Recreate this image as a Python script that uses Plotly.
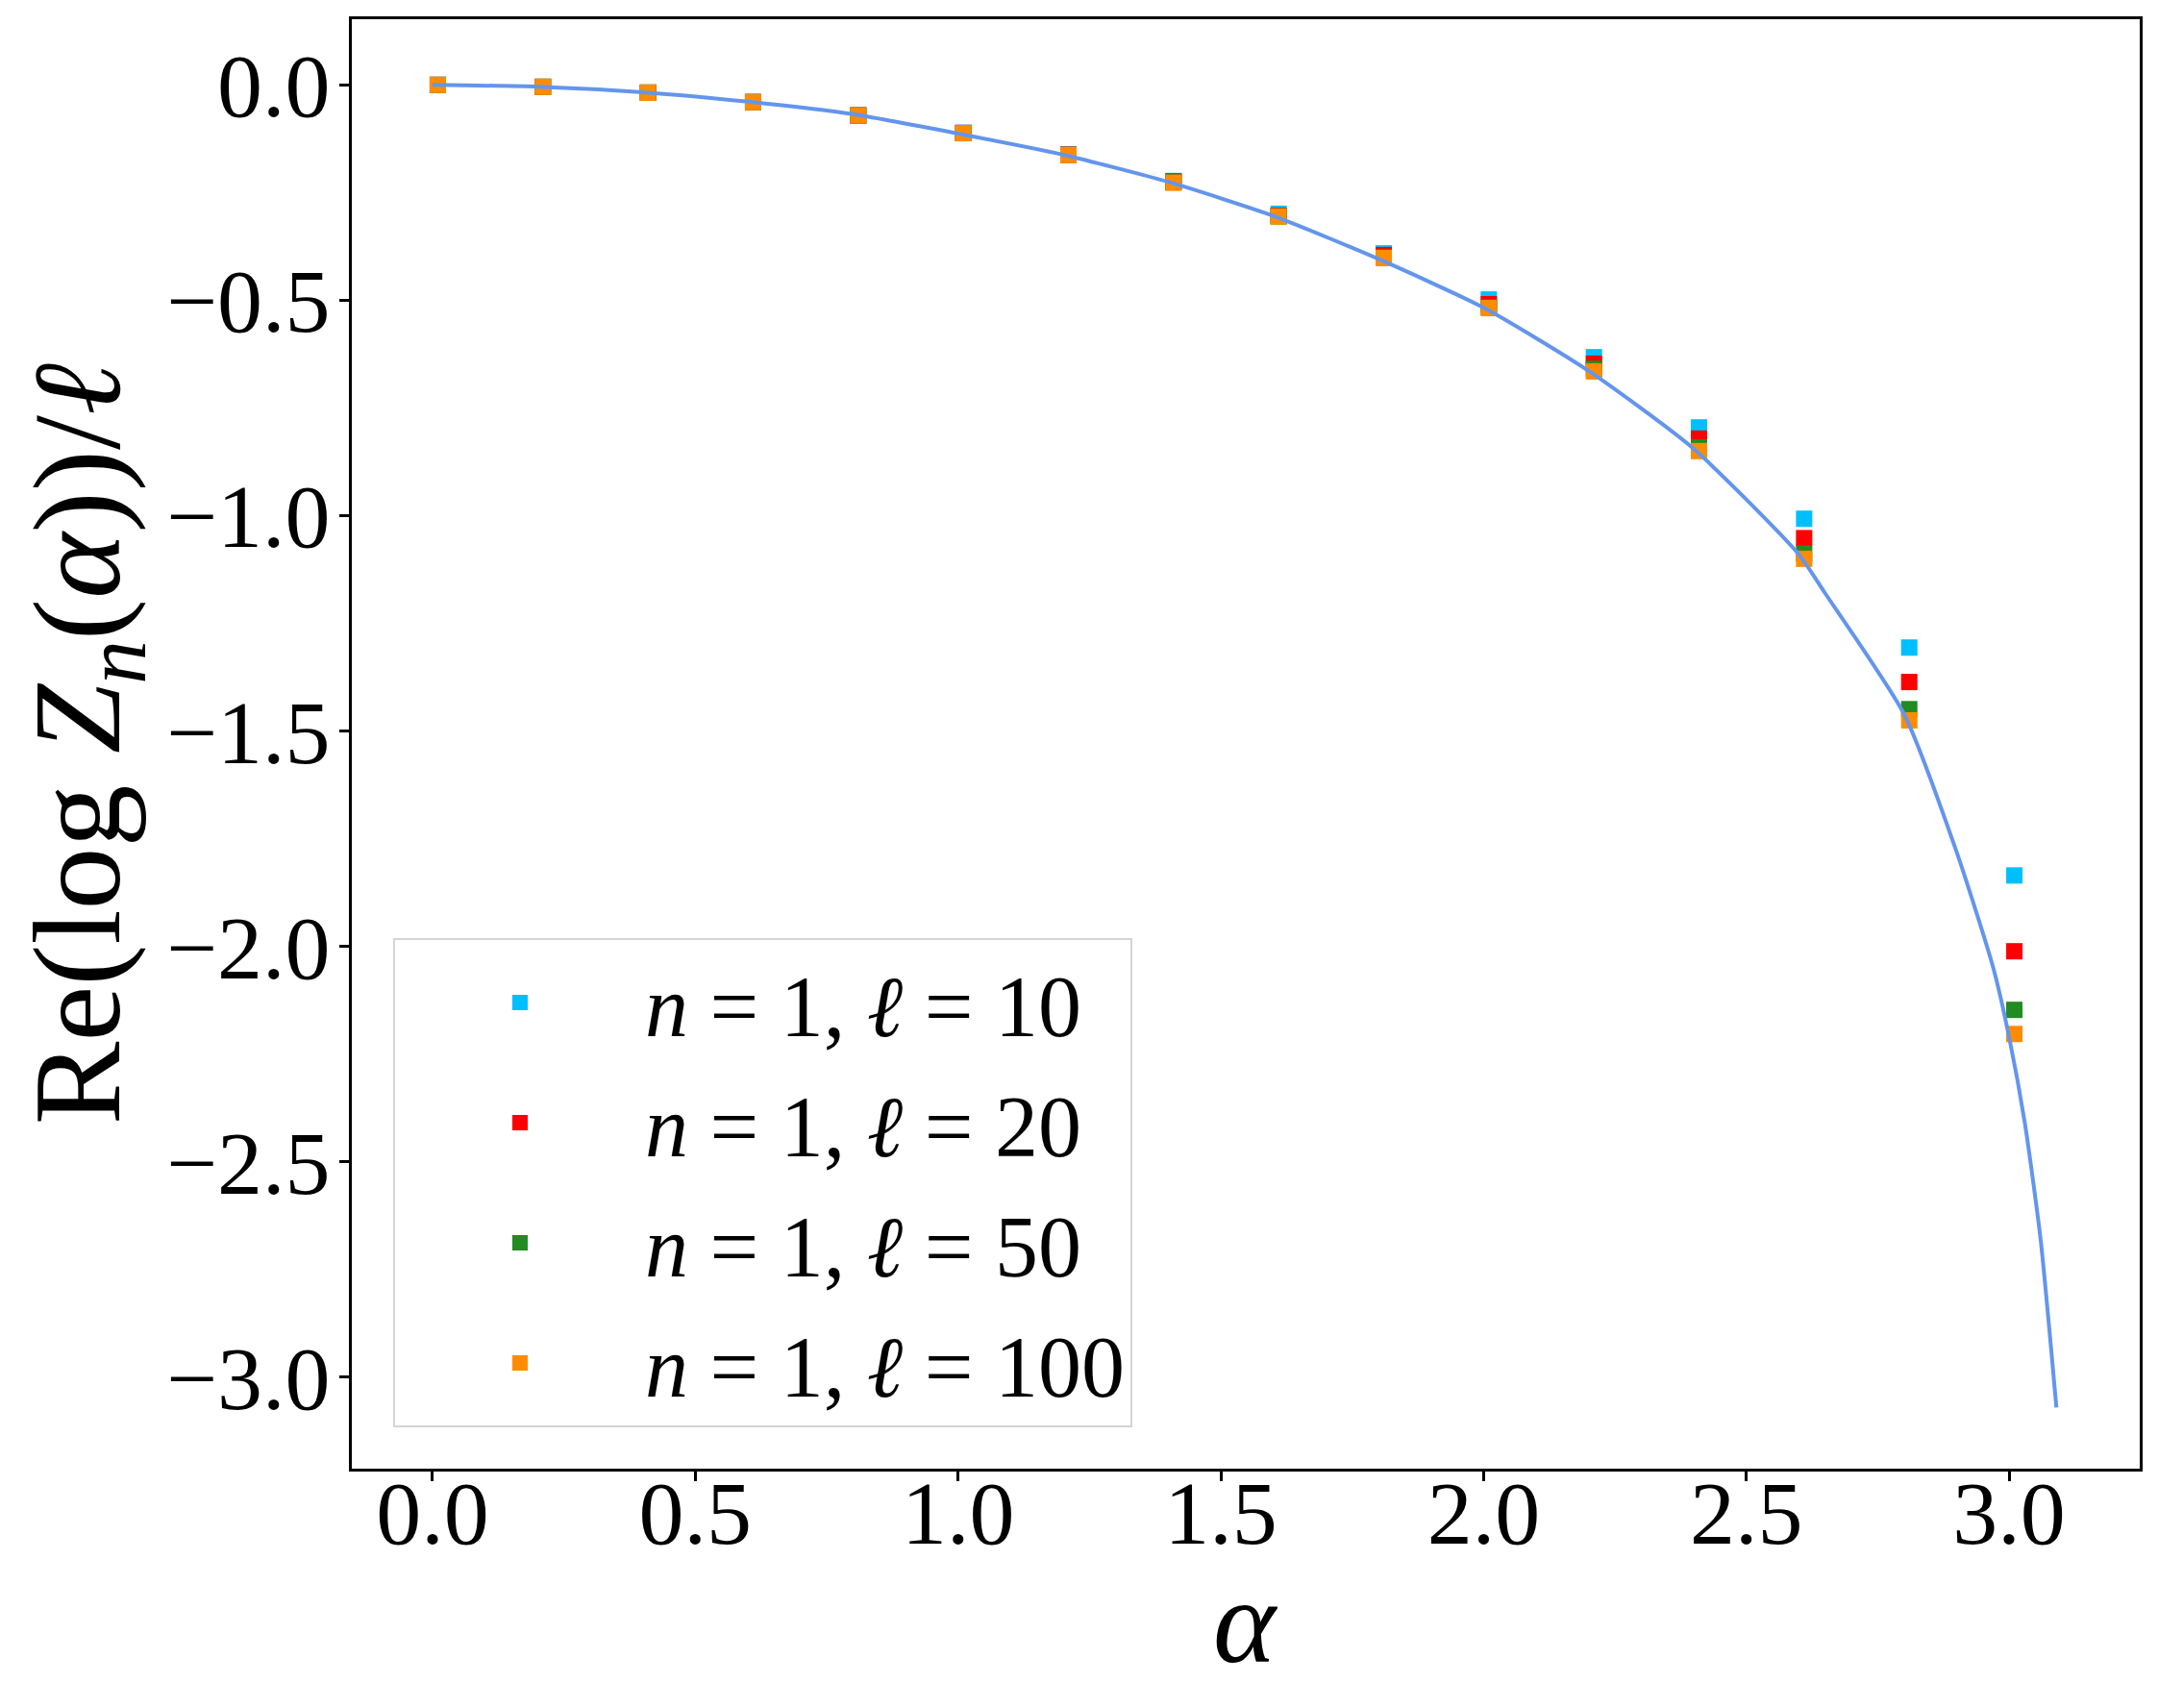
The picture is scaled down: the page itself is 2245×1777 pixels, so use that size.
import plotly.graph_objects as go

# ---- data ----
alpha = [0.01, 0.21, 0.41, 0.61, 0.81, 1.01, 1.21, 1.41, 1.61, 1.81,
         2.01, 2.21, 2.41, 2.61, 2.81, 3.01]

y_l10 = [0.0, -0.0044, -0.0178, -0.0398, -0.0705, -0.111, -0.1615, -0.223,
         -0.299, -0.391, -0.498, -0.632, -0.795, -1.007, -1.306, -1.835]
y_l20 = [0.0, -0.0045, -0.0179, -0.0399, -0.0708, -0.1115, -0.162, -0.224,
         -0.3036, -0.395, -0.509, -0.647, -0.821, -1.052, -1.386, -2.011]
y_l50 = [0.0, -0.0045, -0.018, -0.040, -0.071, -0.112, -0.1625, -0.226,
         -0.305, -0.3996, -0.516, -0.659, -0.8415, -1.088, -1.449, -2.147]
y_l100 = [0.0, -0.0045, -0.018, -0.040, -0.071, -0.112, -0.163, -0.227,
          -0.3055, -0.402, -0.518, -0.665, -0.850, -1.100, -1.475, -2.203]

curve_alpha = [0.0, 0.2, 0.4, 0.6, 0.8, 1.0, 1.2, 1.4, 1.6, 1.8, 2.0, 2.2,
               2.4, 2.6, 2.65, 2.8, 2.9, 2.97, 3.0, 3.03, 3.06, 3.09]
curve_y = [0.0, -0.004, -0.017, -0.039, -0.068, -0.113, -0.162, -0.225,
           -0.304, -0.404, -0.517, -0.664, -0.845, -1.09, -1.18, -1.46,
           -1.78, -2.05, -2.21, -2.41, -2.68, -3.07]

series_names = ["<i>n</i> = 1, <i>ℓ</i> = 10", "<i>n</i> = 1, <i>ℓ</i> = 20",
                "<i>n</i> = 1, <i>ℓ</i> = 50", "<i>n</i> = 1, <i>ℓ</i> = 100"]
series_vals = [y_l10, y_l20, y_l50, y_l100]
series_colors = ["#00BFFF", "#FF0000", "#228B22", "#FF8C00"]

x_ticks = [0.0, 0.5, 1.0, 1.5, 2.0, 2.5, 3.0]
y_ticks = [0.0, -0.5, -1.0, -1.5, -2.0, -2.5, -3.0]

FONT = "Liberation Serif"

fig = go.Figure()
for i, (name, vals, col) in enumerate(zip(series_names, series_vals, series_colors)):
    fig.add_trace(go.Scatter(
        x=alpha, y=vals, mode="markers", name=name,
        legendgroup=f"g{i}",
        marker=dict(symbol="square", size=17, color=col, line=dict(width=0)),
    ))

fig.add_trace(go.Scatter(
    x=curve_alpha, y=curve_y, mode="lines", showlegend=False,
    line=dict(color="#6495ED", width=4, shape="spline", smoothing=0.6),
))

axis_common = dict(
    showgrid=False, zeroline=False, showline=True, linecolor="black",
    linewidth=2.5, mirror=True, ticks="outside", ticklen=10, tickwidth=2.5,
    tickcolor="black", tickfont=dict(family=FONT, size=94, color="black"),
    automargin=False,
)

fig.update_xaxes(
    range=[-0.1536, 3.2486], tickvals=x_ticks, tickformat=".1f",
    ticklabelstandoff=-48,
    **axis_common,
)
fig.update_yaxes(
    range=[-3.212, 0.1525], tickvals=y_ticks, tickformat=".1f",
    ticklabelstandoff=-9,
    title=dict(text="Re(log <i>Z</i><sub><i>n</i></sub>(<i>α</i>))/<i>ℓ</i>",
               font=dict(family=FONT, size=130, color="black"), standoff=10),
    **axis_common,
)

# x-axis title placed as an annotation so it sits where the reference has it
fig.add_annotation(
    text="<i>α</i>", xref="paper", yref="paper", x=0.5, y=-0.106,
    xanchor="center", yanchor="middle", showarrow=False,
    font=dict(family=FONT, size=124, color="black"),
)

fig.update_layout(
    width=2245, height=1777,
    margin=dict(l=358, r=27, t=12, b=257),
    plot_bgcolor="white", paper_bgcolor="white",
    legend=dict(
        x=0.0231, y=0.0285, xanchor="left", yanchor="bottom",
        bgcolor="rgba(255,255,255,0.8)", bordercolor="#d4d4d4", borderwidth=2,
        font=dict(family=FONT, size=90, color="black"),
        itemwidth=250, traceorder="grouped", tracegroupgap=5,
    ),
)

fig.write_html("out.html")
